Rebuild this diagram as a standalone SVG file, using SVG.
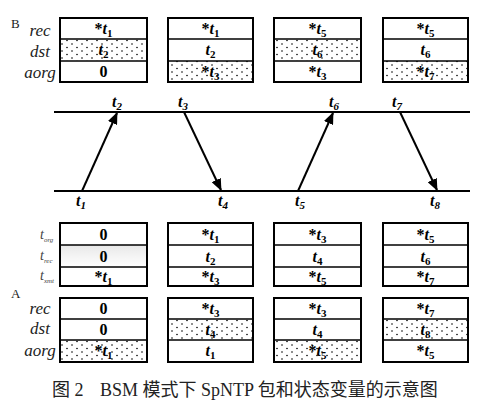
<svg xmlns="http://www.w3.org/2000/svg" width="492" height="403" viewBox="0 0 492 403">
<style>
.box{fill:none;stroke:#000;stroke-width:2}
.div{stroke:#000;stroke-width:1.5}
.v{font-family:'Times New Roman','Liberation Serif','DejaVu Serif',serif;font-weight:bold;font-size:16px;fill:#000;text-anchor:middle}
.t{font-style:italic}
.s{font-size:11px}
.lab{font-family:'Times New Roman','Liberation Serif','DejaVu Serif',serif;font-style:italic;font-size:17px;fill:#222;text-anchor:middle}
.lab2{font-family:'Times New Roman','Liberation Serif','DejaVu Serif',serif;font-style:italic;font-size:14px;fill:#444}
.ab{font-family:'Times New Roman','Liberation Serif','DejaVu Serif',serif;font-size:13px;fill:#222}
.tl{font-family:'Times New Roman','Liberation Serif','DejaVu Serif',serif;font-weight:bold;font-style:italic;font-size:16px;fill:#000}
.ln{stroke:#000;stroke-width:2}
.ar{stroke:#000;stroke-width:2;fill:none}
.cap{font-family:'Times New Roman','Liberation Serif','Noto Sans CJK SC',serif;font-size:18px;fill:#222}
</style>
<defs>
<pattern id="dots" width="10" height="7" patternUnits="userSpaceOnUse">
<circle cx="2" cy="2" r="0.8" fill="#000"/>
<circle cx="7" cy="5.5" r="0.8" fill="#000"/>
</pattern>
<linearGradient id="gr" x1="0" y1="0" x2="0" y2="1">
<stop offset="0" stop-color="#e8e8e8"/>
<stop offset="1" stop-color="#ffffff"/>
</linearGradient>
<marker id="ah" markerWidth="12" markerHeight="10" refX="11" refY="5" orient="auto" markerUnits="userSpaceOnUse">
<path d="M0,0 L12,5 L0,10 Z" fill="#000"/>
</marker>
</defs>
<rect width="492" height="403" fill="#fff"/>

<text class="ab" x="11" y="28">B</text>
<text class="lab" x="40" y="36">rec</text>
<text class="lab" x="40" y="57">dst</text>
<text class="lab" x="40" y="78">aorg</text>

<g id="b1">
<rect x="60" y="39" width="87" height="22" fill="url(#dots)"/>
<rect class="box" x="60" y="18" width="87" height="64"/>
<line class="div" x1="60" y1="39" x2="147" y2="39"/><line class="div" x1="60" y1="61" x2="147" y2="61"/>
<text class="v" x="103.5" y="34">*<tspan class="t">t</tspan><tspan class="s" dy="3">1</tspan></text>
<text class="v" x="103.5" y="55"><tspan class="t">t</tspan><tspan class="s" dy="3">2</tspan></text>
<text class="v" x="103.5" y="77">0</text>
</g>
<g id="b2">
<rect x="168" y="61" width="85" height="21" fill="url(#dots)"/>
<rect class="box" x="168" y="18" width="85" height="64"/>
<line class="div" x1="168" y1="39" x2="253" y2="39"/><line class="div" x1="168" y1="61" x2="253" y2="61"/>
<text class="v" x="210.5" y="34">*<tspan class="t">t</tspan><tspan class="s" dy="3">1</tspan></text>
<text class="v" x="210.5" y="55"><tspan class="t">t</tspan><tspan class="s" dy="3">2</tspan></text>
<text class="v" x="210.5" y="77">*<tspan class="t">t</tspan><tspan class="s" dy="3">3</tspan></text>
</g>
<g id="b3">
<rect x="274" y="39" width="87" height="22" fill="url(#dots)"/>
<rect class="box" x="274" y="18" width="87" height="64"/>
<line class="div" x1="274" y1="39" x2="361" y2="39"/><line class="div" x1="274" y1="61" x2="361" y2="61"/>
<text class="v" x="317.5" y="34">*<tspan class="t">t</tspan><tspan class="s" dy="3">5</tspan></text>
<text class="v" x="317.5" y="55"><tspan class="t">t</tspan><tspan class="s" dy="3">6</tspan></text>
<text class="v" x="317.5" y="77">*<tspan class="t">t</tspan><tspan class="s" dy="3">3</tspan></text>
</g>
<g id="b4">
<rect x="383" y="61" width="85" height="21" fill="url(#dots)"/>
<rect class="box" x="383" y="18" width="85" height="64"/>
<line class="div" x1="383" y1="39" x2="468" y2="39"/><line class="div" x1="383" y1="61" x2="468" y2="61"/>
<text class="v" x="425.5" y="34">*<tspan class="t">t</tspan><tspan class="s" dy="3">5</tspan></text>
<text class="v" x="425.5" y="55"><tspan class="t">t</tspan><tspan class="s" dy="3">6</tspan></text>
<text class="v" x="425.5" y="77">*<tspan class="t">t</tspan><tspan class="s" dy="3">7</tspan></text>
</g>

<g id="connectors">
<line class="ln" x1="54" y1="112" x2="470" y2="112"/>
<line class="ln" x1="54" y1="191" x2="470" y2="191"/>
<line class="ar" x1="82" y1="191" x2="117" y2="113" marker-end="url(#ah)"/>
<line class="ar" x1="184" y1="112" x2="221" y2="190" marker-end="url(#ah)"/>
<line class="ar" x1="298" y1="191" x2="333" y2="113" marker-end="url(#ah)"/>
<line class="ar" x1="400" y1="112" x2="437" y2="190" marker-end="url(#ah)"/>
</g>
<g id="tlabels">
<text class="tl" x="112" y="107">t<tspan class="s" dy="3">2</tspan></text>
<text class="tl" x="178" y="107">t<tspan class="s" dy="3">3</tspan></text>
<text class="tl" x="329" y="107">t<tspan class="s" dy="3">6</tspan></text>
<text class="tl" x="392" y="107">t<tspan class="s" dy="3">7</tspan></text>
<text class="tl" x="76" y="206">t<tspan class="s" dy="3">1</tspan></text>
<text class="tl" x="218" y="206">t<tspan class="s" dy="3">4</tspan></text>
<text class="tl" x="295" y="206">t<tspan class="s" dy="3">5</tspan></text>
<text class="tl" x="430" y="206">t<tspan class="s" dy="3">8</tspan></text>
</g>

<text class="lab2" x="40" y="239">t<tspan font-size="7" dy="3">org</tspan></text>
<text class="lab2" x="40" y="260">t<tspan font-size="7" dy="3">rec</tspan></text>
<text class="lab2" x="40" y="280">t<tspan font-size="7" dy="3">xmt</tspan></text>

<g id="a1">
<rect x="60" y="245" width="87" height="22" fill="url(#gr)"/>
<rect class="box" x="60" y="223" width="87" height="63"/>
<line class="div" x1="60" y1="245" x2="147" y2="245"/><line class="div" x1="60" y1="267" x2="147" y2="267"/>
<text class="v" x="103.5" y="240">0</text>
<text class="v" x="103.5" y="262">0</text>
<text class="v" x="103.5" y="282">*<tspan class="t">t</tspan><tspan class="s" dy="3">1</tspan></text>
</g>
<g id="a2">
<rect class="box" x="168" y="223" width="85" height="63"/>
<line class="div" x1="168" y1="245" x2="253" y2="245"/><line class="div" x1="168" y1="267" x2="253" y2="267"/>
<text class="v" x="210.5" y="240">*<tspan class="t">t</tspan><tspan class="s" dy="3">1</tspan></text>
<text class="v" x="210.5" y="262"><tspan class="t">t</tspan><tspan class="s" dy="3">2</tspan></text>
<text class="v" x="210.5" y="282">*<tspan class="t">t</tspan><tspan class="s" dy="3">3</tspan></text>
</g>
<g id="a3">
<rect class="box" x="274" y="223" width="87" height="63"/>
<line class="div" x1="274" y1="245" x2="361" y2="245"/><line class="div" x1="274" y1="267" x2="361" y2="267"/>
<text class="v" x="317.5" y="240">*<tspan class="t">t</tspan><tspan class="s" dy="3">3</tspan></text>
<text class="v" x="317.5" y="262"><tspan class="t">t</tspan><tspan class="s" dy="3">4</tspan></text>
<text class="v" x="317.5" y="282">*<tspan class="t">t</tspan><tspan class="s" dy="3">5</tspan></text>
</g>
<g id="a4">
<rect class="box" x="383" y="223" width="85" height="63"/>
<line class="div" x1="383" y1="245" x2="468" y2="245"/><line class="div" x1="383" y1="267" x2="468" y2="267"/>
<text class="v" x="425.5" y="240">*<tspan class="t">t</tspan><tspan class="s" dy="3">5</tspan></text>
<text class="v" x="425.5" y="262"><tspan class="t">t</tspan><tspan class="s" dy="3">6</tspan></text>
<text class="v" x="425.5" y="282">*<tspan class="t">t</tspan><tspan class="s" dy="3">7</tspan></text>
</g>

<text class="ab" x="11" y="298">A</text>
<text class="lab" x="40" y="314">rec</text>
<text class="lab" x="40" y="334">dst</text>
<text class="lab" x="40" y="356">aorg</text>

<g id="s1">
<rect x="60" y="340" width="87" height="22" fill="url(#dots)"/>
<rect class="box" x="60" y="298" width="87" height="64"/>
<line class="div" x1="60" y1="319" x2="147" y2="319"/><line class="div" x1="60" y1="340" x2="147" y2="340"/>
<text class="v" x="103.5" y="314">0</text>
<text class="v" x="103.5" y="335">0</text>
<text class="v" x="103.5" y="356">*<tspan class="t">t</tspan><tspan class="s" dy="3">1</tspan></text>
</g>
<g id="s2">
<rect x="168" y="319" width="85" height="21" fill="url(#dots)"/>
<rect class="box" x="168" y="298" width="85" height="64"/>
<line class="div" x1="168" y1="319" x2="253" y2="319"/><line class="div" x1="168" y1="340" x2="253" y2="340"/>
<text class="v" x="210.5" y="314">*<tspan class="t">t</tspan><tspan class="s" dy="3">3</tspan></text>
<text class="v" x="210.5" y="335"><tspan class="t">t</tspan><tspan class="s" dy="3">4</tspan></text>
<text class="v" x="210.5" y="356"><tspan class="t">t</tspan><tspan class="s" dy="3">1</tspan></text>
</g>
<g id="s3">
<rect x="274" y="340" width="87" height="22" fill="url(#dots)"/>
<rect class="box" x="274" y="298" width="87" height="64"/>
<line class="div" x1="274" y1="319" x2="361" y2="319"/><line class="div" x1="274" y1="340" x2="361" y2="340"/>
<text class="v" x="317.5" y="314">*<tspan class="t">t</tspan><tspan class="s" dy="3">3</tspan></text>
<text class="v" x="317.5" y="335"><tspan class="t">t</tspan><tspan class="s" dy="3">4</tspan></text>
<text class="v" x="317.5" y="356">*<tspan class="t">t</tspan><tspan class="s" dy="3">5</tspan></text>
</g>
<g id="s4">
<rect x="383" y="319" width="85" height="21" fill="url(#dots)"/>
<rect class="box" x="383" y="298" width="85" height="64"/>
<line class="div" x1="383" y1="319" x2="468" y2="319"/><line class="div" x1="383" y1="340" x2="468" y2="340"/>
<text class="v" x="425.5" y="314">*<tspan class="t">t</tspan><tspan class="s" dy="3">7</tspan></text>
<text class="v" x="425.5" y="335"><tspan class="t">t</tspan><tspan class="s" dy="3">8</tspan></text>
<text class="v" x="425.5" y="356">*<tspan class="t">t</tspan><tspan class="s" dy="3">5</tspan></text>
</g>

<text class="cap" x="52" y="396">图 2</text>
<text class="cap" x="100" y="396">BSM 模式下 SpNTP 包和状态变量的示意图</text>
</svg>
